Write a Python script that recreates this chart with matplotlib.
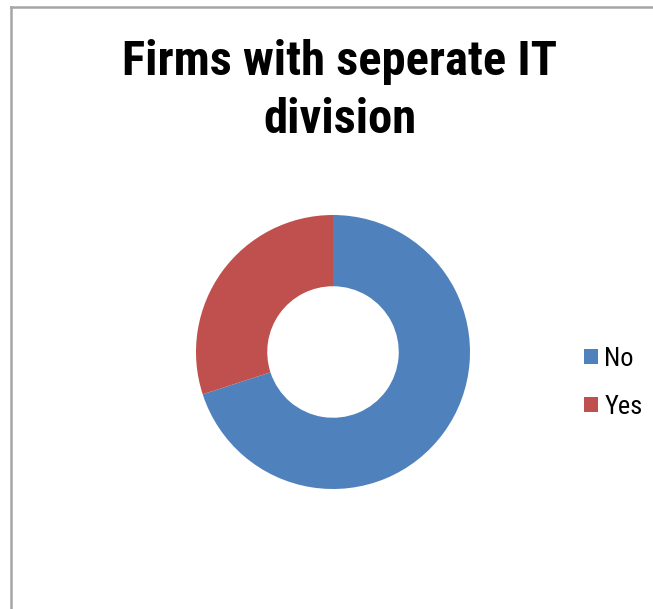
import matplotlib
matplotlib.use("Agg")
import matplotlib.pyplot as plt
from matplotlib.lines import Line2D
from matplotlib.patches import Patch

labels = ["No", "Yes"]
values = [70, 30]
colors = ["#4F81BD", "#C0504D"]
title_lines = ["Firms with seperate IT", "division"]

W, H = 653, 609
fig = plt.figure(figsize=(W / 100, H / 100), dpi=100)
fig.patch.set_facecolor("white")

title_fams = ["Roboto Condensed", "PT Sans Narrow", "DejaVu Sans"]
leg_fams = ["Roboto Condensed", "PT Sans Narrow", "DejaVu Sans"]

# frame lines (left and top)
fig.add_artist(Line2D([11 / W, 11 / W], [0, 1 - 7 / H], color="#a6a6a6", lw=1.8,
                      transform=fig.transFigure))
fig.add_artist(Line2D([11 / W, 1], [1 - 7 / H, 1 - 7 / H], color="#a6a6a6", lw=1.8,
                      transform=fig.transFigure))

cx, cy, r = 333, 352, 137
ax = fig.add_axes([(cx - r) / W, 1 - (cy + r) / H, 2 * r / W, 2 * r / H])
ax.pie(values, colors=colors, startangle=90, counterclock=False, radius=1,
       wedgeprops=dict(width=0.52, edgecolor="none"))
ax.set_xlim(-1, 1)
ax.set_ylim(-1, 1)
ax.set_aspect("auto")
ax.axis("off")

for line, base in zip(title_lines, [75, 133]):
    fig.text(340 / W, 1 - base / H, line, ha="center", va="baseline", fontsize=35,
             fontweight="bold", family=title_fams)

handles = [Patch(facecolor=c, edgecolor="none") for c in colors]
fig.legend(handles, labels, loc="center left", bbox_to_anchor=(584 / W, 1 - 383 / H),
           frameon=False, prop=dict(family=leg_fams, size=19), handlelength=0.52,
           handleheight=0.52, handletextpad=0.25, labelspacing=0.9, borderpad=0,
           borderaxespad=0)

fig.savefig("out.png", dpi=100, facecolor="white")
